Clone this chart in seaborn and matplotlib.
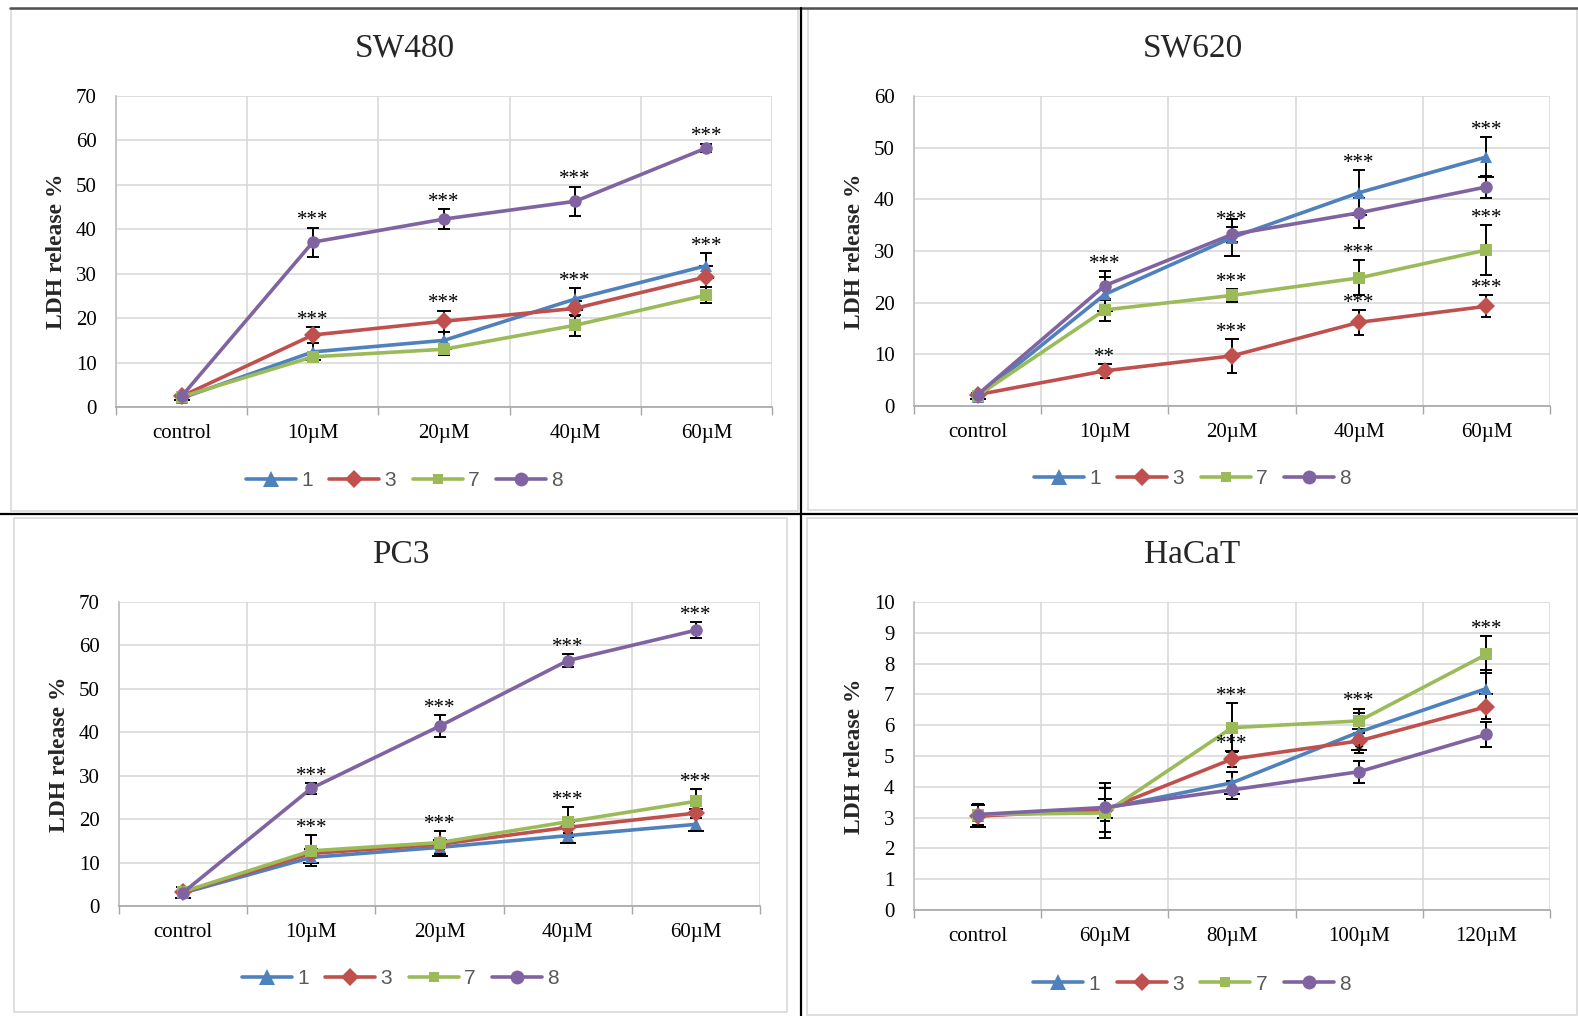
import matplotlib
matplotlib.use("Agg")
import matplotlib.pyplot as plt
import numpy as np
import pandas as pd
import seaborn as sns
from matplotlib.lines import Line2D
from matplotlib.patches import Rectangle

# ---- data -------------------------------------------------------------
series_names = ["1", "3", "7", "8"]
series_colors = {"1": "#4F81BD", "3": "#C0504D", "7": "#9BBB59", "8": "#8064A2"}
series_markers = {"1": "^", "3": "D", "7": "s", "8": "o"}
marker_sizes = {"1": 11, "3": 9, "7": 7.5, "8": 10}

doses_60 = ["control", "10µM", "20µM", "40µM", "60µM"]
doses_120 = ["control", "60µM", "80µM", "100µM", "120µM"]

# SW480
sw480_mean = {
    "1": [2.0, 12.4, 15.0, 24.3, 31.8],
    "3": [2.4, 16.2, 19.3, 22.2, 29.3],
    "7": [2.3, 11.3, 13.0, 18.4, 25.2],
    "8": [2.4, 37.1, 42.3, 46.3, 58.3],
}
sw480_err = {
    "1": [0.4, 1.9, 1.9, 2.4, 2.8],
    "3": [0.4, 1.7, 2.4, 1.7, 2.4],
    "7": [0.4, 1.1, 1.2, 2.4, 1.7],
    "8": [0.4, 3.3, 2.2, 3.3, 1.0],
}
sw480_stars = [(1, "8", "***"), (1, "3", "***"), (2, "8", "***"), (2, "3", "***"),
               (3, "8", "***"), (3, "1", "***"), (4, "8", "***"), (4, "1", "***")]

# SW620
sw620_mean = {
    "1": [1.8, 21.6, 32.6, 41.3, 48.2],
    "3": [2.2, 6.8, 9.7, 16.2, 19.3],
    "7": [2.0, 18.6, 21.4, 24.8, 30.2],
    "8": [2.2, 23.3, 33.2, 37.4, 42.4],
}
sw620_err = {
    "1": [0.4, 3.3, 3.5, 4.4, 3.8],
    "3": [0.4, 1.3, 3.3, 2.4, 2.1],
    "7": [0.4, 2.2, 1.2, 3.4, 4.8],
    "8": [0.4, 2.8, 1.4, 2.9, 2.1],
}
sw620_stars = [(1, "8", "***"), (1, "3", "**"), (2, "8", "***"), (2, "7", "***"),
               (2, "3", "***"), (3, "1", "***"), (3, "7", "***"), (3, "3", "***"),
               (4, "1", "***"), (4, "7", "***"), (4, "3", "***")]

# PC3
pc3_mean = {
    "1": [3.0, 11.2, 13.5, 16.2, 18.8],
    "3": [3.2, 12.1, 14.2, 18.1, 21.4],
    "7": [3.3, 12.7, 14.6, 19.4, 24.1],
    "8": [3.1, 27.1, 41.4, 56.5, 63.5],
}
pc3_err = {
    "1": [1.2, 1.2, 2.1, 1.7, 1.5],
    "3": [1.2, 1.0, 1.0, 1.2, 1.0],
    "7": [1.0, 3.6, 2.7, 3.4, 2.8],
    "8": [1.3, 1.2, 2.6, 1.5, 1.9],
}
pc3_stars = [(1, "8", "***"), (1, "7", "***"), (2, "8", "***"), (2, "7", "***"),
             (3, "8", "***"), (3, "7", "***"), (4, "8", "***"), (4, "7", "***")]

# HaCaT
hacat_mean = {
    "1": [3.05, 3.3, 4.13, 5.78, 7.19],
    "3": [3.05, 3.25, 4.9, 5.49, 6.6],
    "7": [3.1, 3.15, 5.92, 6.14, 8.3],
    "8": [3.1, 3.33, 3.9, 4.49, 5.7],
}
hacat_err = {
    "1": [0.35, 0.3, 0.35, 0.6, 0.6],
    "3": [0.35, 0.35, 0.25, 0.4, 0.4],
    "7": [0.35, 0.8, 0.8, 0.4, 0.6],
    "8": [0.35, 0.8, 0.3, 0.36, 0.4],
}
hacat_stars = [(2, "7", "***"), (2, "3", "***"), (3, "7", "***"), (3, "8", "*"),
               (4, "7", "***")]

panels = [
    ("SW480", doses_60, sw480_mean, sw480_err, sw480_stars, 70, 10),
    ("SW620", doses_60, sw620_mean, sw620_err, sw620_stars, 60, 10),
    ("PC3", doses_60, pc3_mean, pc3_err, pc3_stars, 70, 10),
    ("HaCaT", doses_120, hacat_mean, hacat_err, hacat_stars, 10, 1),
]

# ---- layout (pixel boxes: left, top, right, bottom) --------------------
W, H = 1578, 1016
axes_px = [(116, 96, 772, 407), (914, 96, 1550, 406),
           (119, 602, 760, 906), (914, 602, 1550, 910)]
frame_px = [(11, 9, 798, 511), (808, 9, 1577, 510),
            (14, 518, 787, 1012), (807, 518, 1577, 1015)]
title_y = [48, 48, 555, 555]
legend_y = [481, 479, 979, 984]

sns.set_theme(style="white")
plt.rcParams["font.family"] = ["Liberation Serif", "DejaVu Serif"]

fig = plt.figure(figsize=(W / 100, H / 100), dpi=100)
fig.patch.set_facecolor("white")


def fx(x):
    return x / W


def fy(y):
    return 1 - y / H


for (l, t, r, b) in frame_px:
    fig.add_artist(Rectangle((fx(l), fy(b)), fx(r - l), (b - t) / H,
                             transform=fig.transFigure, fill=False,
                             edgecolor="#d9d9d9", linewidth=1.2))

# table lines between panels
fig.add_artist(Line2D([fx(10), 1], [fy(8), fy(8)], transform=fig.transFigure,
                      color="#505050", linewidth=1.8))
fig.add_artist(Line2D([fx(801), fx(801)], [0, fy(8)], transform=fig.transFigure,
                      color="black", linewidth=1.6))
fig.add_artist(Line2D([0, 1], [fy(514), fy(514)], transform=fig.transFigure,
                      color="black", linewidth=1.6))

for k, ((title, cats, means, errs, stars, ymax, ystep), (l, t, r, b)) in enumerate(zip(panels, axes_px)):
    ax = fig.add_axes([fx(l), fy(b), fx(r - l), (b - t) / H])
    rows = []
    for s in series_names:
        for i, c in enumerate(cats):
            rows.append({"pos": i, "dose": c, "series": s,
                         "value": means[s][i], "err": errs[s][i]})
    df = pd.DataFrame(rows)

    # error bars first so lines sit on top
    for s in series_names:
        d = df[df["series"] == s]
        ax.errorbar(d["pos"], d["value"], yerr=d["err"], fmt="none",
                    ecolor="black", elinewidth=1.4, capsize=4.5, capthick=1.4,
                    zorder=2)

    sns.lineplot(data=df, x="pos", y="value", hue="series", style="series",
                 hue_order=series_names, style_order=series_names,
                 palette=series_colors, markers=series_markers, dashes=False,
                 linewidth=2.6, markersize=9, markeredgewidth=0,
                 legend=False, ax=ax, zorder=3)
    for line, s in zip(ax.get_lines(), series_names):
        line.set_markersize(marker_sizes[s])

    for (i, s, txt) in stars:
        top = means[s][i] + errs[s][i]
        ax.annotate(txt, (i, top), xytext=(0, -2), textcoords="offset points",
                    ha="center", va="bottom", fontsize=15, color="black",
                    zorder=5)

    ax.set_xlim(-0.5, len(cats) - 0.5)
    ax.set_ylim(0, ymax)
    yt = np.arange(0, ymax + ystep / 2, ystep)
    ax.set_yticks(yt)
    ax.set_yticklabels([str(int(v)) for v in yt])
    ax.set_xticks(range(len(cats)))
    ax.set_xticklabels(cats)
    ax.set_xticks(np.arange(-0.5, len(cats), 1.0), minor=True)
    ax.tick_params(axis="x", which="major", length=0, labelsize=15, pad=12,
                   colors="black")
    ax.tick_params(axis="x", which="minor", length=6, width=1, color="#a6a6a6",
                   direction="out", bottom=True)
    ax.tick_params(axis="y", length=0, labelsize=15, pad=14, colors="black")
    ax.grid(True, axis="y", color="#d9d9d9", linewidth=1.2)
    ax.grid(True, axis="x", which="minor", color="#d9d9d9", linewidth=1.2)
    ax.grid(False, axis="x", which="major")
    ax.set_axisbelow(True)
    for side in ["top", "right"]:
        ax.spines[side].set_visible(False)
    ax.spines["left"].set_color("#bfbfbf")
    ax.spines["bottom"].set_color("#a6a6a6")
    ax.spines["left"].set_linewidth(1.2)
    ax.spines["bottom"].set_linewidth(1.2)
    ax.set_xlabel("")
    ax.set_ylabel("LDH release %", fontsize=17, fontweight="bold", labelpad=6)

    fl, ft, fr, fb = frame_px[k]
    fig.text(fx((fl + fr) / 2), fy(title_y[k]), title, fontsize=24,
             ha="center", va="center")

    handles = [Line2D([0], [0], color=series_colors[s], marker=series_markers[s],
                      markersize=marker_sizes[s], markeredgewidth=0,
                      linewidth=2.6) for s in series_names]
    leg = fig.legend(handles, series_names, loc="center",
                     bbox_to_anchor=(fx((fl + fr) / 2), fy(legend_y[k])),
                     ncol=4, frameon=False,
                     handlelength=2.4, handletextpad=0.25, columnspacing=0.8,
                     prop={"family": ["Liberation Sans", "DejaVu Sans"], "size": 15})
    for txt in leg.get_texts():
        txt.set_color("#595959")

fig.savefig("out.png", dpi=100, facecolor="white")
